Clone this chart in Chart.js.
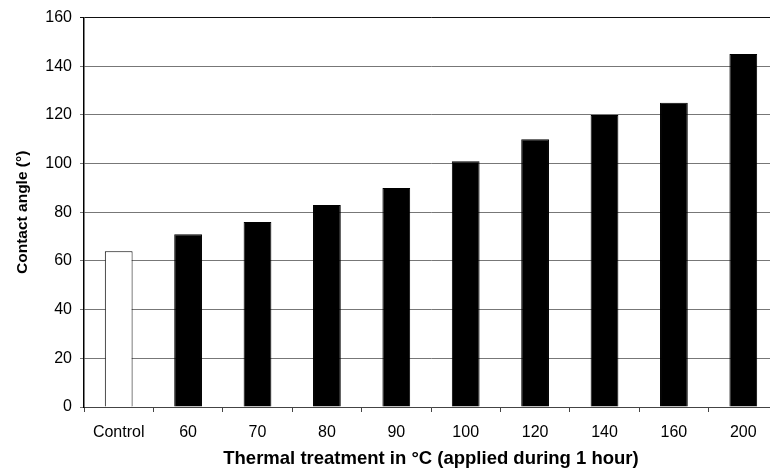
<!DOCTYPE html>
<html>
<head>
<meta charset="utf-8">
<script src="https://cdn.jsdelivr.net/npm/chart.js@4"></script>
<style>
html,body{margin:0;padding:0;background:#fff;overflow:hidden;}
#wrap{width:770px;height:472px;overflow:hidden;position:relative;}
canvas{display:block;}
</style>
</head>
<body>
<div id="wrap"><canvas id="c" width="800" height="472"></canvas></div>
<script>
const categories = ["Control","60","70","80","90","100","120","140","160","200"];
const contactAngle = [64,71,76,83,90,101,110,120,125,145];
const yTicks = [0,20,40,60,80,100,120,140,160];
const barFill = categories.map((c,i)=> i===0 ? '#ffffff' : '#000000');

new Chart(document.getElementById('c'), {
  type: 'bar',
  data: {
    labels: categories,
    datasets: [{
      data: contactAngle,
      backgroundColor: barFill,
      borderColor: '#000000',
      borderWidth: 1,
      barPercentage: 0.4,
      categoryPercentage: 1.0
    }]
  },
  options: {
    responsive: false,
    animation: false,
    layout: { padding: { left: 0, right: 22, top: 15, bottom: 0 } },
    plugins: { legend: { display: false }, tooltip: { enabled: false } },
    scales: {
      x: {
        offset: true,
        grid: { offset: true, drawOnChartArea: false, drawTicks: true, tickLength: 5, color: '#444444', lineWidth: 1 },
        border: { color: '#444444', width: 1 },
        ticks: { color: '#000', padding: 11, font: { family: 'Liberation Sans, Arial', size: 16 }, maxRotation: 0 },
        title: { display: true, text: 'Thermal treatment in °C (applied during 1 hour)', color: '#000',
                 font: { family: 'Liberation Sans, Arial', size: 18.5, weight: 'bold' }, padding: { top: 6, bottom: 2 } },
        afterFit: s => { s.height = 65; }
      },
      y: {
        min: 0, max: 160,
        afterBuildTicks: s => { s.ticks = yTicks.map(v => ({ value: v })); },
        grid: { color: ctx => ctx.tick && ctx.tick.value === 160 ? '#111111' : '#777777', lineWidth: 1, tickLength: 4, drawTicks: true },
        border: { color: '#000000', width: 1.5 },
        ticks: { color: '#000', padding: 8, font: { family: 'Liberation Sans, Arial', size: 16 } },
        title: { display: true, text: 'Contact angle (°)', color: '#000',
                 font: { family: 'Liberation Sans, Arial', size: 15.5, weight: 'bold' }, padding: { top: 13, bottom: 4 } },
        afterFit: s => { s.width = 84; }
      }
    }
  }
});
</script>
</body>
</html>
